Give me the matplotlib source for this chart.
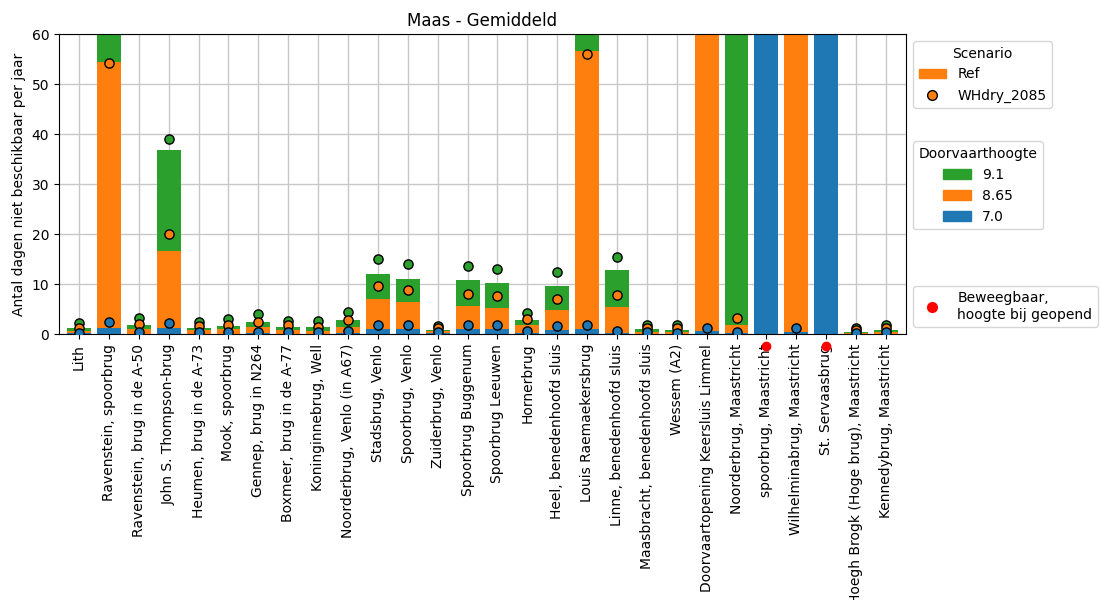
#!/usr/bin/env python3
"""
Maas - Gemiddeld: dagen per jaar dat een brug niet beschikbaar is,
per doorvaarthoogte (Ref als staaf, WHdry_2085 als punt).
"""

import matplotlib
matplotlib.use('Agg')
import matplotlib.pyplot as plt
from matplotlib.patches import Patch
from matplotlib.lines import Line2D

BRIDGES = [
    'Lith', 'Ravenstein, spoorbrug', 'Ravenstein, brug in de A-50',
    'John S. Thompson-brug', 'Heumen, brug in de A-73', 'Mook, spoorbrug',
    'Gennep, brug in N264', 'Boxmeer, brug in de A-77', 'Koninginnebrug, Well',
    'Noorderbrug, Venlo (in A67)', 'Stadsbrug, Venlo', 'Spoorbrug, Venlo',
    'Zuiderbrug, Venlo', 'Spoorbrug Buggenum', 'Spoorbrug Leeuwen',
    'Hornerbrug', 'Heel, benedenhoofd sluis', 'Louis Raemaekersbrug',
    'Linne, benedenhoofd sluis', 'Maasbracht, benedenhoofd sluis',
    'Wessem (A2)', 'Doorvaartopening Keersluis Limmel',
    'Noorderbrug, Maastricht', 'spoorbrug, Maastricht',
    'Wilhelminabrug, Maastricht', 'St. Servaasbrug',
    'Hoegh Brogk (Hoge brug), Maastricht', 'Kennedybrug, Maastricht',
]

# Ref scenario, days per year unavailable, per clearance height
REF_91 = [1.2, 90, 1.8, 36.8, 1.3, 1.7, 2.5, 1.4, 1.4, 2.8, 12.1, 11.1, 0.9,
          10.9, 10.2, 2.8, 9.6, 85, 12.8, 1.0, 0.9, 200, 120, 365, 150, 365,
          0.5, 0.8]
REF_865 = [0.6, 54.5, 1.1, 16.7, 0.8, 1.0, 1.5, 0.8, 0.7, 1.5, 7.1, 6.5, 0.6,
           5.7, 5.3, 1.8, 4.8, 56.7, 5.5, 0.5, 0.5, 150, 1.9, 365, 100, 365,
           0.3, 0.5]
REF_70 = [0.3, 1.3, 0.1, 1.2, 0.1, 0.1, 0.3, 0.1, 0.1, 0.3, 1.0, 1.0, 0.2,
          1.0, 1.0, 0.3, 0.8, 1.0, 0.3, 0.1, 0.1, 0.7, 0.2, 365, 0.5, 365,
          0.1, 0.1]

# WHdry_2085 scenario
WH_91 = [2.2, 95, 3.3, 39.0, 2.5, 3.0, 4.0, 2.6, 2.6, 4.5, 15.0, 14.0, 1.6,
         13.7, 13.1, 4.3, 12.4, 90, 15.5, 1.9, 1.8, 220, 130, 365, 160, 365,
         1.2, 1.8]
WH_865 = [1.2, 54.3, 2.0, 20.0, 1.7, 1.9, 2.5, 1.8, 1.5, 2.9, 9.6, 8.9, 1.2,
          8.0, 7.6, 3.1, 7.1, 56.1, 7.9, 1.2, 1.2, 160, 3.2, 365, 110, 365,
          0.8, 1.2]
WH_70 = [0.3, 2.5, 0.5, 2.3, 0.5, 0.5, 0.5, 0.5, 0.5, 0.7, 1.9, 1.8, 0.5,
         1.9, 1.8, 0.7, 1.7, 1.9, 0.7, 0.5, 0.3, 1.2, 0.4, 365, 1.3, 365,
         0.3, 0.5]

MOVABLE = [23, 25]   # indices of movable bridges (height when opened)

HEIGHTS = ['9.1', '8.65', '7.0']
COLORS = {'9.1': '#2ca02c', '8.65': '#ff7f0e', '7.0': '#1f77b4'}


def main():
    fig, ax = plt.subplots(figsize=(11.02, 6.0), dpi=100)
    fig.subplots_adjust(left=59 / 1102, right=906 / 1102,
                        top=1 - 34 / 600, bottom=1 - 334 / 600)

    x = list(range(len(BRIDGES)))
    ref = {'9.1': REF_91, '8.65': REF_865, '7.0': REF_70}
    wh = {'9.1': WH_91, '8.65': WH_865, '7.0': WH_70}

    # overlapping bars, largest first
    for h in HEIGHTS:
        ax.bar(x, ref[h], width=0.8, color=COLORS[h], zorder=2)
    for h in HEIGHTS:
        ax.scatter(x, wh[h], s=44, color=COLORS[h], edgecolor='black',
                   linewidth=1.0, zorder=3)

    # movable bridges marked below the axis
    ax.scatter(MOVABLE, [-2.3] * len(MOVABLE), s=36, color='red',
               clip_on=False, zorder=5)

    ax.set_ylim(0, 60)
    ax.set_xlim(-0.67, 27.67)
    ax.set_xticks(x)
    ax.set_xticklabels(BRIDGES, rotation=90)
    ax.set_ylabel('Antal dagen niet beschikbaar per jaar')
    ax.set_title('Maas - Gemiddeld')
    ax.grid(True, color='#c8c8c8', linewidth=1.0)
    ax.set_axisbelow(True)

    # legends
    scen = ax.legend(handles=[
        Patch(color=COLORS['8.65'], label='Ref'),
        Line2D([], [], marker='o', linestyle='none', markersize=7,
               markerfacecolor=COLORS['8.65'], markeredgecolor='black',
               label='WHdry_2085'),
    ], title='Scenario', loc='upper left', bbox_to_anchor=(1.0, 1.0))
    ax.add_artist(scen)

    hgt = ax.legend(handles=[Patch(color=COLORS[h], label=h) for h in HEIGHTS],
                    title='Doorvaarthoogte', loc='upper left',
                    bbox_to_anchor=(1.0, 0.665))
    ax.add_artist(hgt)

    ax.legend(handles=[
        Line2D([], [], marker='o', linestyle='none', markersize=7,
               color='red', label='Beweegbaar,\nhoogte bij geopend'),
    ], loc='lower left', bbox_to_anchor=(1.0, 0.0))

    fig.savefig('out.png', dpi=100)
    plt.close(fig)


if __name__ == '__main__':
    main()
